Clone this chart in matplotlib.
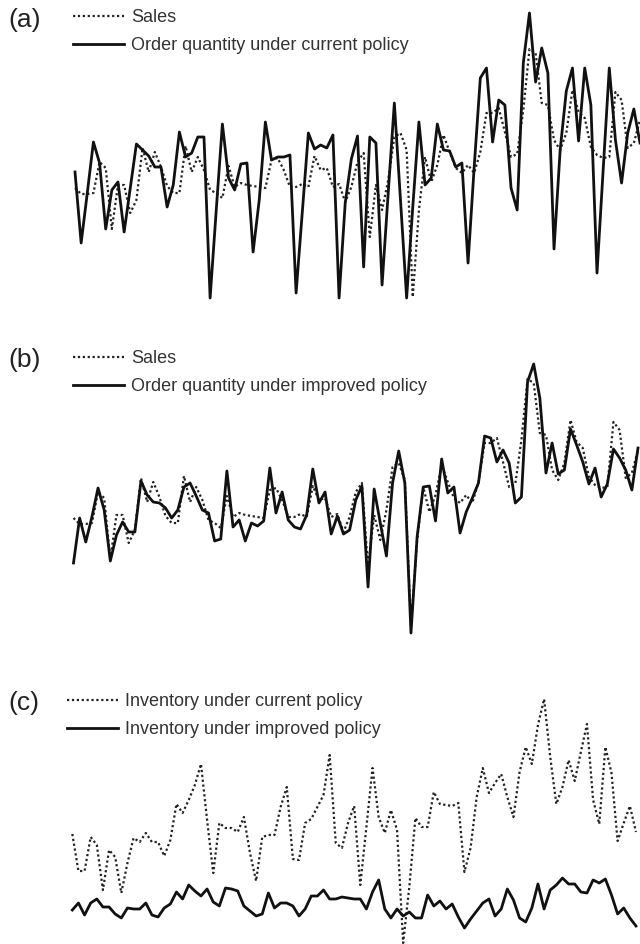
import numpy as np
import matplotlib
matplotlib.use("Agg")
import matplotlib.pyplot as plt

plt.rcParams['font.family'] = ['Liberation Sans', 'DejaVu Sans']

# weekly series (arbitrary units)
sales = [112, 106, 106, 107, 138, 132, 71, 115, 115, 87,
         100, 152, 128, 148, 133, 114, 107, 107, 154, 128,
         143, 130, 110, 107, 102, 134, 113, 117, 115, 114,
         113, 112, 140, 142, 130, 113, 113, 116, 113, 144,
         130, 132, 113, 116, 98, 113, 138, 147, 63, 115,
         90, 120, 163, 167, 150, 3, 90, 143, 118, 135,
         165, 148, 132, 127, 135, 127, 148, 187, 187, 192,
         168, 143, 146, 190, 251, 247, 197, 195, 160, 150,
         167, 210, 188, 182, 153, 145, 142, 143, 208, 200,
         152, 157, 180]

order_current = [128, 57, 107, 158, 137, 71, 110, 118, 68, 112,
                 156, 150, 144, 133, 133, 93, 115, 168, 143, 147,
                 163, 163, 2, 90, 176, 122, 110, 136, 137, 48,
                 100, 178, 140, 143, 143, 145, 7, 87, 167, 151,
                 155, 152, 165, 2, 97, 141, 164, 33, 163, 157,
                 15, 107, 197, 100, 2, 93, 178, 115, 122, 176,
                 150, 149, 133, 137, 37, 133, 222, 232, 158, 200,
                 195, 112, 90, 237, 287, 218, 252, 227, 51, 150,
                 209, 232, 159, 232, 195, 27, 130, 232, 160, 117,
                 167, 191, 157]

order_improved = [67, 112, 88, 113, 142, 120, 69, 95, 108, 98,
                  98, 149, 135, 128, 127, 122, 112, 120, 143, 147,
                  134, 120, 117, 89, 91, 159, 103, 110, 89, 107,
                  104, 109, 162, 117, 138, 110, 103, 101, 115, 161,
                  127, 138, 96, 114, 96, 100, 130, 144, 43, 141,
                  107, 74, 147, 179, 147, -3, 93, 143, 144, 109,
                  171, 137, 143, 97, 118, 132, 147, 194, 192, 168,
                  180, 167, 127, 133, 248, 266, 232, 157, 187, 156,
                  160, 201, 185, 168, 146, 162, 133, 146, 181, 172,
                  160, 140, 182]

inv_current = [106, 69, 69, 103, 95, 50, 90, 83, 47, 77,
               102, 98, 107, 98, 98, 84, 100, 136, 127, 140,
               155, 176, 120, 67, 117, 112, 112, 108, 123, 87,
               59, 103, 105, 105, 133, 153, 81, 80, 117, 121,
               133, 145, 185, 97, 92, 117, 134, 55, 113, 172,
               123, 107, 130, 110, -3, 53, 122, 113, 113, 148,
               136, 135, 134, 137, 68, 92, 143, 172, 147, 157,
               166, 143, 123, 168, 193, 176, 215, 241, 183, 136,
               153, 180, 159, 188, 216, 140, 116, 193, 167, 99,
               117, 134, 108]

inv_improved = [30, 37, 25, 37, 41, 33, 33, 26, 22, 32,
                31, 31, 37, 25, 23, 32, 36, 48, 41, 55,
                49, 44, 51, 38, 34, 52, 51, 49, 34, 29,
                24, 26, 47, 32, 37, 37, 34, 24, 31, 44,
                44, 50, 41, 41, 43, 42, 41, 41, 31, 48,
                60, 31, 22, 31, 24, 28, 22, 22, 45, 34,
                39, 31, 36, 23, 12, 21, 29, 37, 41, 24,
                31, 51, 40, 22, 18, 32, 56, 31, 50, 55,
                62, 56, 56, 48, 47, 60, 57, 61, 45, 26,
                32, 22, 14]

weeks = np.arange(len(sales))

W, H = 640, 944
fig = plt.figure(figsize=(W / 100, H / 100), dpi=100)


def px_axes(left, right, top, bottom):
    # axes placed in pixel coords of the figure
    return fig.add_axes([left / W, 1 - bottom / H, (right - left) / W, (bottom - top) / H])


dot = dict(color='#222222', lw=1.6, ls=(0, (1, 1.2)))
sol = dict(color='#111111', lw=2.0)

panels = [
    ('(a)', px_axes(75, 640, 0, 300), (0, 300), sales, order_current,
     'Sales', 'Order quantity under current policy', 20),
    ('(b)', px_axes(73.5, 638, 330, 630), (0, 300), sales, order_improved,
     'Sales', 'Order quantity under improved policy', 360),
    ('(c)', px_axes(72.3, 636, 660, 940), (0, 280), inv_current, inv_improved,
     'Inventory under current policy', 'Inventory under improved policy', 703),
]

for tag, ax, ylim, y_dot, y_sol, lab_dot, lab_sol, ty in panels:
    ax.plot(weeks, y_dot, label=lab_dot, clip_on=False, **dot)
    ax.plot(weeks, y_sol, label=lab_sol, clip_on=False, **sol)
    ax.set_xlim(0, len(weeks) - 1)
    ax.set_ylim(*ylim)
    ax.axis('off')
    fig.text(8 / W, 1 - ty / H, tag, fontsize=19, color='#222222', va='center')

# legends (top-left corner of each legend, pixels)
leg_pos = [(73, 9), (73, 350), (67, 693)]
for (tag, ax, *_), (lx, ly) in zip(panels, leg_pos):
    ax.legend(loc='upper left', bbox_to_anchor=(lx / W, 1 - ly / H),
              bbox_transform=fig.transFigure, frameon=False, fontsize=13,
              handlelength=2.8, handletextpad=0.4, labelspacing=0.6,
              borderpad=0, borderaxespad=0, labelcolor='#333333')

fig.savefig('out.png', dpi=100, facecolor='white')
